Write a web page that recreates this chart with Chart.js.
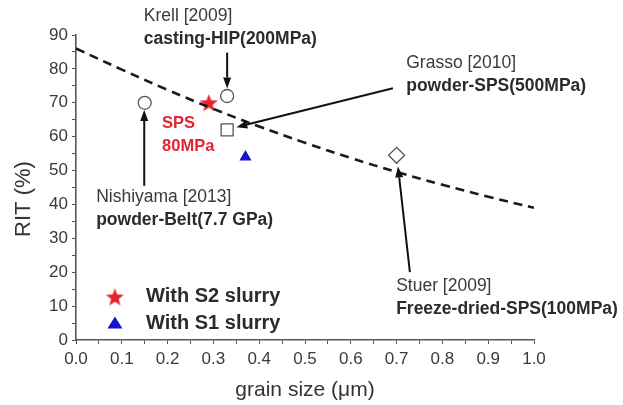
<!DOCTYPE html>
<html>
<head>
<meta charset="utf-8">
<script src="https://cdn.jsdelivr.net/npm/chart.js@4.4.1/dist/chart.umd.min.js"></script>
<style>
  html, body { margin: 0; padding: 0; background: #fff; }
  canvas { display: block; }
</style>
</head>
<body>
<canvas id="c" width="623" height="405"></canvas>
<script>
// Trend of relative in-line transmittance (RIT) against grain size
const fitGrain = [0, 0.1, 0.2, 0.3, 0.4, 0.5, 0.6, 0.7, 0.8, 0.9, 1.0];
const fitRIT   = [86, 79.8, 73.8, 68.2, 63.0, 58.2, 53.7, 49.6, 45.8, 42.3, 39.0];

// Published results
const krellGrain = [0.33],     krellRIT = [72];
const grassoGrain = [0.33],    grassoRIT = [62];
const nishiyamaGrain = [0.15], nishiyamaRIT = [70];
const stuerGrain = [0.70],     stuerRIT = [54.5];

// This work
const s2Grain = [0.29], s2RIT = [70];
const s1Grain = [0.37], s1RIT = [54];

// Labelled ticks
const xTickLabels = [0, 0.1, 0.2, 0.3, 0.4, 0.5, 0.6, 0.7, 0.8, 0.9, 1.0];
const yTickLabels = [0, 10, 20, 30, 40, 50, 60, 70, 80, 90];

const toPoints = (xs, ys) => xs.map((x, i) => ({ x, y: ys[i] }));

const FONT = '"Liberation Sans", Arial, Helvetica, sans-serif';
const TEXT = '#2b2b2b';
const RED = '#e5242d';
const BLUE = '#1414c8';

// Filled five-point star used as a point style
function makeStar(size, color) {
  const c = document.createElement('canvas');
  c.width = c.height = size;
  const g = c.getContext('2d');
  const cx = size / 2, cy = size / 2 + size * 0.04;
  const R = size / 2, r = R * 0.42;
  g.beginPath();
  for (let i = 0; i < 10; i++) {
    const a = -Math.PI / 2 + i * Math.PI / 5;
    const rad = i % 2 === 0 ? R : r;
    const px = cx + rad * Math.cos(a), py = cy + rad * Math.sin(a);
    if (i === 0) g.moveTo(px, py); else g.lineTo(px, py);
  }
  g.closePath();
  g.fillStyle = color;
  g.fill();
  return c;
}
const starImg = makeStar(19, RED);

// Callouts: text lines and arrows, placed in data units
const callouts = [
  { at: [0.148, 95.6], lines: ['Krell [2009]', 'casting-HIP(200MPa)'], arrow: [[0.33, 84.8], [0.33, 74.2]] },
  { at: [0.721, 81.7], lines: ['Grasso [2010]', 'powder-SPS(500MPa)'], arrow: [[0.692, 74.3], [0.35, 62.8]] },
  { at: [0.044, 42.2], lines: ['Nishiyama [2013]', 'powder-Belt(7.7 GPa)'], arrow: [[0.149, 45.5], [0.149, 67.9]] },
  { at: [0.699, 15.9], lines: ['Stuer [2009]', 'Freeze-dried-SPS(100MPa)'], arrow: [[0.729, 20.0], [0.703, 51.2]] }
];

function drawArrow(ctx, x1, y1, x2, y2) {
  const ang = Math.atan2(y2 - y1, x2 - x1);
  const len = 11, half = 4;
  const bx = x2 - len * Math.cos(ang), by = y2 - len * Math.sin(ang);
  ctx.strokeStyle = '#111';
  ctx.fillStyle = '#111';
  ctx.lineWidth = 2;
  ctx.beginPath();
  ctx.moveTo(x1, y1);
  ctx.lineTo(bx, by);
  ctx.stroke();
  ctx.beginPath();
  ctx.moveTo(x2, y2);
  ctx.lineTo(bx + half * Math.sin(ang), by - half * Math.cos(ang));
  ctx.lineTo(bx - half * Math.sin(ang), by + half * Math.cos(ang));
  ctx.closePath();
  ctx.fill();
}

const decorations = {
  id: 'decorations',
  beforeDraw(chart) {
    const ctx = chart.ctx;
    ctx.save();
    ctx.fillStyle = '#fff';
    ctx.fillRect(0, 0, chart.width, chart.height);
    ctx.restore();
  },
  afterDatasetsDraw(chart) {
    const ctx = chart.ctx;
    const xs = chart.scales.x, ys = chart.scales.y;
    const px = v => xs.getPixelForValue(v), py = v => ys.getPixelForValue(v);
    ctx.save();

    // callouts
    callouts.forEach(c => {
      const [a, b] = c.arrow;
      drawArrow(ctx, px(a[0]), py(a[1]), px(b[0]), py(b[1]));
      ctx.textAlign = 'left';
      ctx.textBaseline = 'middle';
      ctx.fillStyle = '#3a3a3a';
      ctx.font = '17.5px ' + FONT;
      ctx.fillText(c.lines[0], px(c.at[0]), py(c.at[1]));
      ctx.fillStyle = TEXT;
      ctx.font = 'bold 17.5px ' + FONT;
      ctx.fillText(c.lines[1], px(c.at[0]), py(c.at[1]) + 23);
    });

    // label next to the SPS point
    ctx.fillStyle = RED;
    ctx.font = 'bold 16.5px ' + FONT;
    ctx.fillText('SPS', px(0.188), py(64.0));
    ctx.fillText('80MPa', px(0.188), py(64.0) + 23);

    // legend
    const lx = px(0.085), tx = px(0.153);
    const l1 = py(12.7), l2 = py(5.0);
    ctx.drawImage(starImg, lx - 9.5, l1 - 9.5);
    ctx.fillStyle = BLUE;
    ctx.beginPath();
    ctx.moveTo(lx, l2 - 6.5);
    ctx.lineTo(lx + 7.5, l2 + 5.5);
    ctx.lineTo(lx - 7.5, l2 + 5.5);
    ctx.closePath();
    ctx.fill();
    ctx.fillStyle = TEXT;
    ctx.font = 'bold 20px ' + FONT;
    ctx.fillText('With S2 slurry', tx, l1);
    ctx.fillText('With S1 slurry', tx, l2);

    // axis titles
    ctx.textAlign = 'center';
    ctx.fillStyle = '#333';
    ctx.font = '21px ' + FONT;
    ctx.fillText('grain size (\u03bcm)', (chart.chartArea.left + chart.chartArea.right) / 2, 390);
    ctx.translate(24, 199);
    ctx.rotate(-Math.PI / 2);
    ctx.font = '22px ' + FONT;
    ctx.fillText('RIT (%)', 0, 0);
    ctx.restore();
  }
};

const openPoint = {
  backgroundColor: '#fff',
  borderColor: '#555',
  borderWidth: 1.3,
  type: 'scatter'
};

new Chart(document.getElementById('c'), {
  type: 'scatter',
  data: {
    datasets: [
      {
        type: 'line',
        label: 'trend',
        data: toPoints(fitGrain, fitRIT),
        borderColor: '#1a1a1a',
        borderWidth: 2.6,
        borderDash: [9, 6],
        pointRadius: 0,
        tension: 0.4,
        fill: false
      },
      Object.assign({ label: 'Krell [2009]', data: toPoints(krellGrain, krellRIT), pointStyle: 'circle', pointRadius: 6.5 }, openPoint),
      Object.assign({ label: 'Grasso [2010]', data: toPoints(grassoGrain, grassoRIT), pointStyle: 'rect', pointRadius: 8.5 }, openPoint),
      Object.assign({ label: 'Nishiyama [2013]', data: toPoints(nishiyamaGrain, nishiyamaRIT), pointStyle: 'circle', pointRadius: 6.5 }, openPoint),
      Object.assign({ label: 'Stuer [2009]', data: toPoints(stuerGrain, stuerRIT), pointStyle: 'rectRot', pointRadius: 8 }, openPoint),
      {
        label: 'With S2 slurry',
        data: toPoints(s2Grain, s2RIT),
        pointStyle: starImg,
        pointRadius: 9
      },
      {
        label: 'With S1 slurry',
        data: toPoints(s1Grain, s1RIT),
        pointStyle: 'triangle',
        pointRadius: 7,
        backgroundColor: BLUE,
        borderColor: BLUE,
        borderWidth: 0
      }
    ]
  },
  options: {
    responsive: false,
    animation: false,
    devicePixelRatio: 1,
    layout: { padding: { top: 35, right: 89, left: 0, bottom: 0 } },
    plugins: { legend: { display: false }, tooltip: { enabled: false } },
    scales: {
      x: {
        type: 'linear',
        min: 0,
        max: 1,
        afterFit: s => { s.height = 65; },
        border: { display: true, color: '#555', width: 1.6 },
        grid: { display: true, drawOnChartArea: false, drawTicks: true, tickLength: 4, color: '#555' },
        ticks: {
          stepSize: 0.05,
          autoSkip: false,
          maxRotation: 0,
          padding: 5,
          color: '#3a3a3a',
          font: { family: FONT, size: 17 },
          callback: v => {
            const hit = xTickLabels.find(t => Math.abs(t - v) < 1e-6);
            return hit === undefined ? '' : hit.toFixed(1);
          }
        }
      },
      y: {
        type: 'linear',
        min: 0,
        max: 90,
        afterFit: s => { s.width = 76; },
        border: { display: true, color: '#555', width: 1.6 },
        grid: { display: true, drawOnChartArea: false, drawTicks: true, tickLength: 4, color: '#555' },
        ticks: {
          stepSize: 5,
          autoSkip: false,
          padding: 4,
          color: '#3a3a3a',
          font: { family: FONT, size: 17 },
          callback: v => (yTickLabels.includes(v) ? String(v) : '')
        }
      }
    }
  },
  plugins: [decorations]
});
</script>
</body>
</html>
